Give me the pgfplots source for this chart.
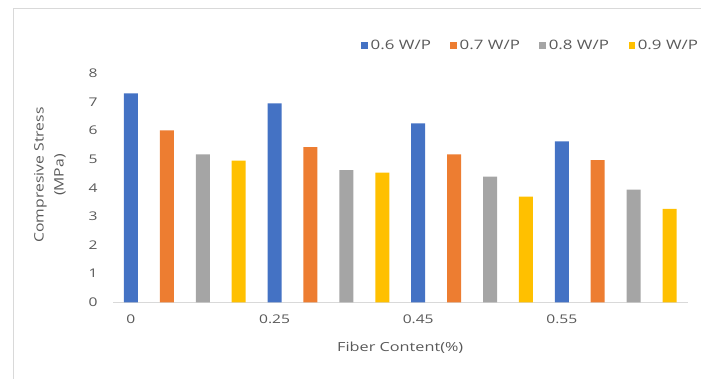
\documentclass[border=0pt]{standalone}
\usepackage{fontspec}
\setmainfont[FakeStretch=1.3]{Open Sans}
\newfontfamily\plainsans{Open Sans}
\usepackage{pgfplots}
\pgfplotsset{compat=1.18}

\definecolor{cBlue}{HTML}{4472C4}
\definecolor{cOrange}{HTML}{ED7D31}
\definecolor{cGray}{HTML}{A5A5A5}
\definecolor{cYellow}{HTML}{FFC000}
\definecolor{txt}{HTML}{595959}
\definecolor{rule}{HTML}{D9D9D9}

\pgfplotsset{
  colbar/.style={ybar, fill=#1, draw=none, bar shift=0pt, bar width=0.39,
    legend image code/.code={\fill[fill=#1] (0pt,-3.4pt) rectangle (6.8pt,3.4pt);}},
}

\begin{document}
\begin{tikzpicture}[x=1pt,y=1pt]
  \path[use as bounding box] (0,0) rectangle (701,-379);
  % chart frame
  \draw[rule, line width=1.3pt] (13.7,-420) -- (13.7,-8.7) -- (740,-8.7);
  \begin{axis}[
    at={(113pt,-302.3pt)}, anchor=south west,
    scale only axis, width=574.5pt, height=229pt,
    xmin=-0.5, xmax=15.5, ymin=0, ymax=8,
    xtick={0,4,8,12}, xticklabels={0,0.25,0.45,0.55},
    ytick={0,1,...,8},
    /pgf/number format/assume math mode=true,
    axis x line*=bottom, axis y line*=left,
    x axis line style={-, draw=rule, line width=1.2pt},
    y axis line style={draw=none},
    tick style={draw=none},
    ticklabel style={font=\fontsize{12}{14}\selectfont, text=txt},
    yticklabel style={xshift=-12pt},
    xticklabel style={yshift=-9pt},
    xlabel={Fiber Content(\%)},
    xlabel style={at={(axis description cs:0.5,-0.2)}, anchor=center,
      font=\fontsize{12.5}{14}\selectfont, text=txt},
    legend columns=4,
    legend style={at={(0.432,1.122)}, anchor=west, draw=none, fill=none,
      inner sep=0pt, font=\fontsize{13}{15}\selectfont, text=txt,
      nodes={inner sep=1.5pt},
      /tikz/every odd column/.append style={column sep=1pt},
      /tikz/every even column/.append style={column sep=18pt}},
  ]
    \addplot[colbar=cBlue]
      coordinates {(0,7.30) (4,6.95) (8,6.25) (12,5.62)};
    \addplot[colbar=cOrange]
      coordinates {(1,6.01) (5,5.42) (9,5.17) (13,4.97)};
    \addplot[colbar=cGray]
      coordinates {(2,5.17) (6,4.62) (10,4.39) (14,3.94)};
    \addplot[colbar=cYellow]
      coordinates {(3,4.95) (7,4.53) (11,3.69) (15,3.26)};
    \legend{0.6 W/P, 0.7 W/P, 0.8 W/P, 0.9 W/P}
  \end{axis}
  % y-axis title, widened along its reading direction
  \node[rotate=90, xscale=1.21, transform shape, align=center, text=txt,
        font=\plainsans\fontsize{13}{20}\selectfont, inner sep=0pt]
    at (50,-175) {Compresive Stress\\(MPa)};
\end{tikzpicture}
\end{document}
